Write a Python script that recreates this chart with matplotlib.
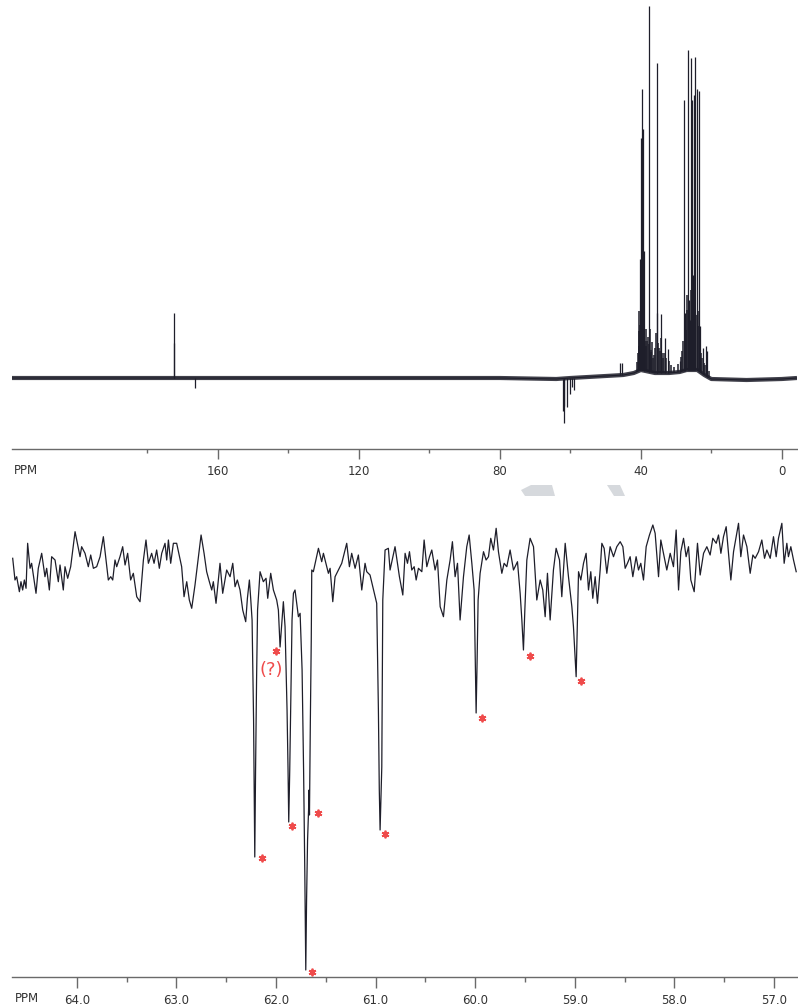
import numpy as np
import matplotlib
matplotlib.use('Agg')
import matplotlib.pyplot as plt
from matplotlib.patches import Polygon

plt.rcParams['font.family'] = ['DejaVu Sans']

# ---- espectro completo (arriba): ppm, altura sobre la linea base ----
base_ppm = [218.4, 180, 173, 120, 80, 64, 60, 50, 45, 42, 40, 36, 32, 29, 27, 24, 22, 20, 10, 0, -4.3]
base_int = [0, 0, 0, 0, 0, -1, 0, 2, 3, 5, 8, 5, 5, 6, 8, 8, 3, -1, -2, -1, 0]

# picos grandes
peak_ppm = [172.3, 172.4, 46.0, 45.3,
            40.2, 40.0, 39.7, 39.5, 39.1, 37.8, 35.5, 35.3, 34.2, 33.2, 32.4,
            28.9, 27.8, 27.6, 26.6, 26.3, 26.1, 25.9, 25.6, 25.2, 24.9, 24.5,
            24.2, 24.0, 23.5, 23.3, 22.5, 21.6, 21.2]
peak_int = [65, 35, 12, 12,
            111, 232, 281, 241, 120, 366, 310, 60, 59, 35, 24,
            11, 271, 58, 320, 70, 50, 312, 270, 95, 275, 313,
            56, 281, 280, 46, 26, 30, 26]

# "pasto" denso en la base de los grupos alifaticos
grass_ppm = [41.0, 40.8, 40.6, 40.5, 40.4, 40.1, 39.9, 39.8, 39.6, 39.4, 39.3, 39.0,
             38.8, 38.6, 38.4, 38.2, 38.0, 37.6, 37.4, 37.2, 37.0, 36.8, 36.5, 36.2,
             35.9, 35.7, 35.1, 34.9, 34.6, 34.4, 34.0, 33.8, 33.5, 32.8, 32.0, 31.5,
             30.5, 29.5, 28.5, 28.2, 28.0, 27.4, 27.2, 27.0, 26.8, 26.45, 25.75, 25.4,
             25.05, 24.7, 24.35, 23.8, 23.65, 23.1, 22.9, 22.7, 22.2, 21.9, 20.8]
grass_int = [10, 18, 25, 40, 60, 45, 70, 50, 40, 55, 45, 40,
             30, 42, 25, 30, 35, 28, 43, 22, 20, 30, 15, 18,
             25, 40, 30, 25, 22, 35, 20, 15, 20, 15, 12, 8,
             6, 8, 15, 20, 30, 25, 40, 60, 75, 50, 80, 60,
             70, 60, 55, 45, 60, 30, 20, 15, 12, 10, 6]

# picos negativos (DEPT) y espiga suelta
neg_ppm = [166.5, 62.21, 61.87, 61.70, 60.95, 59.99, 59.52, 58.99]
neg_int = [-10, -32, -28, -45, -29, -16, -9, -12]

top_ticks = [160, 120, 80, 40, 0]
top_minor = [180, 140, 100, 60, 20]

# ---- ampliacion 57-64.6 ppm (abajo): (ppm, intensidad) ----
zoom_pts = [
    (64.643, 11.7), (64.620, -10), (64.603, -6.7), (64.576, -21.7), (64.560, -11.7),
    (64.543, -20), (64.526, -10), (64.509, -18.3), (64.493, 26.7), (64.469, 1.7),
    (64.453, 6.7), (64.409, -23.3), (64.386, 1.7), (64.352, 16.7), (64.319, -6.7),
    (64.302, 1.7), (64.275, -20), (64.252, 13.3), (64.218, 10), (64.185, -11.7),
    (64.168, 5), (64.135, -20), (64.118, 3.3), (64.091, -8.3), (64.061, 3.3),
    (64.017, 38.3), (63.994, 26.7), (63.967, 13.3), (63.951, 23.3), (63.917, 16.7),
    (63.884, 3.3), (63.860, 15), (63.833, 1.7), (63.800, 3.3), (63.766, 13.3),
    (63.733, 33.3), (63.706, 10), (63.683, -10), (63.659, -6.7), (63.639, -10),
    (63.616, 10), (63.599, 3.3), (63.566, 13.3), (63.539, 23.3), (63.515, 5),
    (63.489, 16.7), (63.459, -10), (63.432, -3.3), (63.398, -26.7), (63.365, -31.7),
    (63.331, 10), (63.305, 30), (63.281, 6.7), (63.248, 16.7), (63.224, 6.7),
    (63.198, 20), (63.171, 1.7), (63.147, 16.7), (63.114, 26.7), (63.097, 10),
    (63.080, 30), (63.057, 6.7), (63.030, 26.7), (62.997, 26.7), (62.947, 3.3),
    (62.923, -26.7), (62.896, -11.7), (62.870, -30), (62.846, -38.3), (62.813, -15),
    (62.779, 13.3), (62.752, 35), (62.722, 16.7), (62.696, -1.7), (62.669, -11.7),
    (62.645, -20), (62.629, -11.7), (62.602, -33.3), (62.562, 6.7), (62.535, -23.3),
    (62.495, 0), (62.461, -6.7), (62.434, 6.7), (62.411, -16.7), (62.388, -10),
    (62.361, -20), (62.334, -40), (62.304, -51.7), (62.287, -28.3), (62.267, -10),
    (62.254, -28.3), (62.240, -50), (62.225, -150), (62.213, -287), (62.205, -200),
    (62.195, -110), (62.185, -40), (62.160, -1.7), (62.127, -11.7), (62.100, -8.3),
    (62.083, -28.3), (62.053, -3.3), (62.026, -20), (61.993, -30), (61.976, -40),
    (61.959, -77), (61.926, -31.7), (61.909, -56.7), (61.889, -140), (61.879, -200),
    (61.872, -252), (61.862, -200), (61.849, -113), (61.839, -50), (61.825, -23.3),
    (61.809, -20), (61.775, -46.7), (61.758, -43.3), (61.738, -100), (61.723, -200),
    (61.711, -300), (61.701, -400), (61.693, -330), (61.683, -270), (61.673, -240),
    (61.668, -220), (61.664, -245), (61.655, -150), (61.646, -70), (61.641, 0),
    (61.625, -1.7), (61.574, 21.7), (61.541, 8.3), (61.524, 16.7), (61.474, -3.3),
    (61.457, 1.7), (61.430, -31.7), (61.407, -6.7), (61.374, 0), (61.340, 6.7),
    (61.290, 26.7), (61.263, 3.3), (61.240, 16.7), (61.206, 1.7), (61.173, 15),
    (61.139, -20), (61.106, 6.7), (61.089, -1.7), (61.056, -5), (60.989, -33.3),
    (60.972, -140), (60.963, -220), (60.955, -260), (60.947, -230), (60.938, -197),
    (60.932, -97), (60.928, -30), (60.905, 20), (60.872, 21.7), (60.855, 0),
    (60.805, 23.3), (60.761, -6.7), (60.727, -25), (60.704, 16.7), (60.680, 6.7),
    (60.660, 18.3), (60.637, 0), (60.613, 3.3), (60.593, -10), (60.570, 1.7),
    (60.536, -1.7), (60.513, 30), (60.486, 3.3), (60.459, 13.3), (60.436, 20),
    (60.403, 0), (60.379, 10), (60.352, -36.7), (60.319, -46.7), (60.285, -10),
    (60.252, 10), (60.229, 28.3), (60.202, -6.7), (60.178, 6.7), (60.152, -50),
    (60.118, -6.7), (60.085, 23.3), (60.061, 35), (60.034, 6.7), (60.011, -20),
    (60.001, -80), (59.991, -143), (59.981, -90), (59.971, -30), (59.951, -3.3),
    (59.917, 18.3), (59.891, 10), (59.867, 13.3), (59.844, 31.7), (59.817, 20),
    (59.790, 41.7), (59.767, 18.3), (59.733, -3.3), (59.710, 6.7), (59.683, 3.3),
    (59.650, 20), (59.616, 0), (59.576, 8.3), (59.549, -23.3), (59.532, -50),
    (59.516, -80), (59.502, -40), (59.482, 10), (59.449, 31.7), (59.415, 23.3),
    (59.382, -30), (59.348, -10), (59.322, -20), (59.298, -46.7), (59.275, -3.3),
    (59.248, -50), (59.215, 0), (59.188, 21.7), (59.154, 10), (59.131, -26.7),
    (59.097, 26.7), (59.064, -6.7), (59.030, -36.7), (59.014, -56.7), (58.987, -106.7),
    (58.974, -50), (58.963, -1.7), (58.940, -10), (58.913, 6.7), (58.887, 16.7),
    (58.863, -20), (58.840, -1.7), (58.820, -28.3), (58.796, -6.7), (58.773, -33.3),
    (58.746, 0), (58.729, 26.7), (58.706, 21.7), (58.679, -3.3), (58.646, 23.3),
    (58.612, 13.3), (58.579, 23.3), (58.545, 28.3), (58.518, 23.3), (58.495, 1.7),
    (58.472, 6.7), (58.445, 13.3), (58.418, -6.7), (58.385, 13.3), (58.361, 0),
    (58.338, 6.7), (58.311, -10), (58.284, 23.3), (58.251, 35), (58.217, 45),
    (58.194, 36.7), (58.160, -6.7), (58.137, 30), (58.110, 16.7), (58.077, 0),
    (58.043, 16.7), (58.010, 3.3), (57.983, 40), (57.959, -20), (57.936, 18.3),
    (57.909, 31.7), (57.883, 13.3), (57.859, 23.3), (57.836, -10), (57.802, -21.7),
    (57.769, 26.7), (57.742, -5), (57.708, 16.7), (57.675, 23.3), (57.642, 15),
    (57.615, 31.7), (57.581, 26.7), (57.558, 35), (57.534, 16.7), (57.508, 33.3),
    (57.481, 43.3), (57.458, 16.7), (57.434, -10), (57.407, 18.3), (57.381, 33.3),
    (57.357, 46.7), (57.334, 13.3), (57.307, 35), (57.273, 23.3), (57.240, -3.3),
    (57.213, 15), (57.190, 11.7), (57.156, 18.3), (57.123, 30), (57.096, 11.7),
    (57.073, 20), (57.039, 11.7), (57.006, 33.3), (56.979, 13.3), (56.956, 31.7),
    (56.922, 46.7), (56.899, 6.7), (56.872, 26.7), (56.856, 13.3), (56.832, 23.3),
    (56.805, 10), (56.778, -1.7),
]

# asteriscos rojos sobre los picos marcados
star_ppm = [62.14, 62.00, 61.84, 61.578, 61.638, 60.905, 59.93, 59.45, 58.937]
star_int = [-288, -81, -256, -243, -402, -264, -148, -86, -111]

zoom_ticks = [64.0, 63.0, 62.0, 61.0, 60.0, 59.0, 58.0, 57.0]
zoom_minor = [63.5, 62.5, 61.5, 60.5, 59.5, 58.5, 57.5]

W, H = 798, 1006
trace_col = '#1e1e2a'
axis_col = '#6a6a6a'
label_col = '#333333'
red = '#ef4b4b'

fig = plt.figure(figsize=(W / 100, H / 100), dpi=100)
fig.patch.set_facecolor('white')


def style_axis(ax, major_len, minor_len, pad):
    for s in ['top', 'left', 'right']:
        ax.spines[s].set_visible(False)
    ax.spines['bottom'].set_color(axis_col)
    ax.spines['bottom'].set_linewidth(1.0)
    ax.set_yticks([])
    ax.tick_params(axis='x', which='major', direction='out', length=major_len, width=1.0,
                   color=axis_col, labelcolor=label_col, labelsize=8.5, pad=pad)
    ax.tick_params(axis='x', which='minor', direction='out', length=minor_len, width=1.0,
                   color=axis_col)
    ax.patch.set_alpha(0)


# ---------------- panel superior ----------------
ax1 = fig.add_axes([12 / W, (H - 449) / H, 785 / W, 449 / H])
bp = np.array(base_ppm)[::-1]
bi = np.array(base_int)[::-1]


def base_at(p):
    return np.interp(p, bp, bi)


# banda de ruido de la linea base
ax1.plot(base_ppm, base_int, color=trace_col, lw=3.0, solid_capstyle='butt', alpha=0.85)
ax1.plot(base_ppm, base_int, color=trace_col, lw=0.8)
ax1.vlines(grass_ppm, base_at(np.array(grass_ppm)),
           base_at(np.array(grass_ppm)) + np.array(grass_int), color=trace_col, lw=1.1)
ax1.vlines(peak_ppm, base_at(np.array(peak_ppm)),
           base_at(np.array(peak_ppm)) + np.array(peak_int), color=trace_col, lw=0.9)
ax1.vlines(neg_ppm, base_at(np.array(neg_ppm)),
           base_at(np.array(neg_ppm)) + np.array(neg_int), color=trace_col, lw=0.9)
ax1.set_xlim(218.4, -4.3)
ax1.set_ylim(-71, 378)
ax1.set_xticks(top_ticks)
ax1.set_xticklabels([str(t) for t in top_ticks])
ax1.set_xticks(top_minor, minor=True)
style_axis(ax1, 7.2, 3.0, 4.5)
fig.text(14 / W, 1 - 471 / H, 'PPM', ha='left', va='center', fontsize=8.5, color=label_col)

# ---------------- panel inferior ----------------
ax2 = fig.add_axes([12 / W, 29 / H, 785 / W, 467 / H])
zp = [p[0] for p in zoom_pts]
zi = [p[1] for p in zoom_pts]
ax2.plot(zp, zi, color=trace_col, lw=0.9)
ax2.plot(star_ppm, star_int, ls='none', marker=(6, 2, 0), ms=5.5, mew=1.3, color=red)
ax2.text(62.05, -100, '(?)', color=red, fontsize=13, ha='center', va='center')
ax2.set_xlim(64.65, 56.77)
ax2.set_ylim(-407, 60)
ax2.set_xticks(zoom_ticks)
ax2.set_xticklabels(['%.1f' % t for t in zoom_ticks])
ax2.set_xticks(zoom_minor, minor=True)
style_axis(ax2, 8.0, 3.5, 4.0)
fig.text(15 / W, 1 - 999 / H, 'PPM', ha='left', va='center', fontsize=8.5, color=label_col)

# marca de agua gris tenue entre paneles
wm = [[(531, 485), (552, 485), (555, 496), (525, 496), (521, 490)],
      [(607, 485), (620, 485), (625, 496), (614, 496)]]
for poly in wm:
    pts = [(x / W, 1 - y / H) for x, y in poly]
    fig.patches.append(Polygon(pts, closed=True, transform=fig.transFigure,
                               facecolor='#d6d9dd', edgecolor='none'))

fig.savefig('out.png', dpi=100, facecolor='white')
